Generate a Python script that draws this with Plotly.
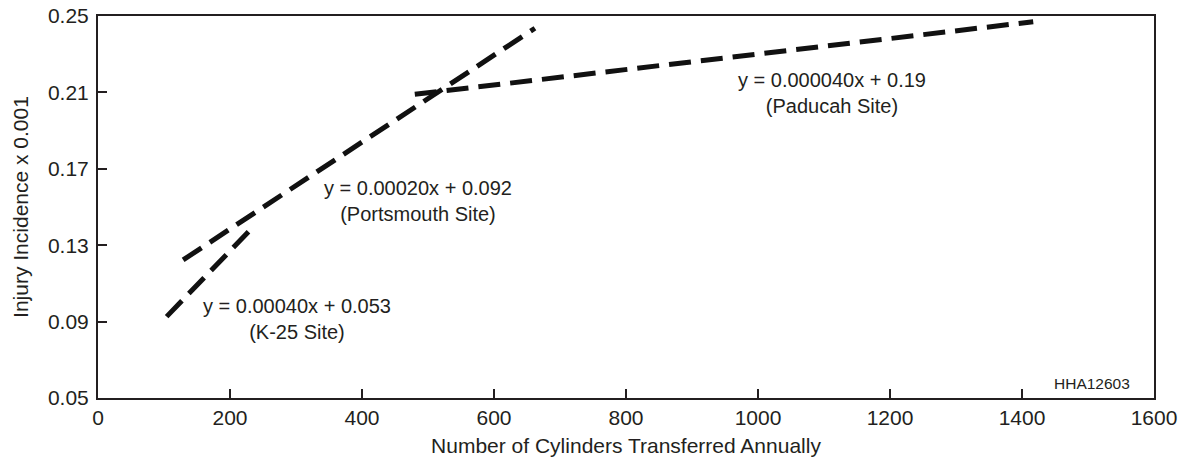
import plotly.graph_objects as go

# Regression line segments (x = cylinders per year, y = injury incidence x 0.001)
sites = ["K-25 Site", "Portsmouth Site", "Paducah Site"]
seg_x = [[104, 228], [129, 662], [480, 1417]]
seg_y = [[0.0926, 0.137], [0.1223, 0.2436], [0.209, 0.247]]
equations = ["y = 0.00040x + 0.053", "y = 0.00020x + 0.092", "y = 0.000040x + 0.19"]
label_x = [302, 485, 1112]
label_y = [0.0914, 0.153, 0.2099]

x_ticks = [0, 200, 400, 600, 800, 1000, 1200, 1400, 1600]
y_ticks = [0.05, 0.09, 0.13, 0.17, 0.21, 0.25]

ink = "#231f20"
font_family = "Liberation Sans, Arial, sans-serif"

fig = go.Figure()
for name, xs, ys in zip(sites, seg_x, seg_y):
    fig.add_trace(go.Scatter(
        x=xs, y=ys, mode="lines", name=name,
        line=dict(color="#111111", width=5, dash="22px,10px"),
        hoverinfo="skip",
    ))

# Equation with the site name on a second line
label_font = dict(family=font_family, size=20, color=ink)
for eq, site, lx, ly in zip(equations, sites, label_x, label_y):
    fig.add_annotation(x=lx, y=ly, xref="x", yref="y",
                       text=f"{eq}<br>({site})", align="center",
                       showarrow=False, font=label_font, borderpad=0)

fig.add_annotation(
    x=0.941, y=0.039, xref="paper", yref="paper",
    xanchor="center", yanchor="middle",
    text="HHA12603", showarrow=False,
    font=dict(family=font_family, size=15.5, color=ink),
)

axis_common = dict(
    showgrid=False, zeroline=False, automargin=False,
    showline=True, linecolor=ink, linewidth=2, mirror=True,
    ticks="inside", ticklen=9, tickwidth=2, tickcolor=ink,
    tickfont=dict(family=font_family, size=21, color=ink),
)

fig.update_xaxes(
    range=[0, 1600], tickvals=x_ticks, ticktext=[str(v) for v in x_ticks],
    title=dict(text="Number of Cylinders Transferred Annually",
               font=dict(family=font_family, size=21, color=ink), standoff=10),
    ticklabelstandoff=0,
    **axis_common,
)
fig.update_yaxes(
    range=[0.05, 0.25], tickvals=y_ticks, ticktext=[f"{v:.2f}" for v in y_ticks],
    title=dict(text="Injury Incidence x 0.001",
               font=dict(family=font_family, size=21, color=ink), standoff=14),
    ticklabelstandoff=3,
    **axis_common,
)

fig.update_layout(
    width=1187, height=461,
    margin=dict(l=98, r=33, t=16, b=63),
    plot_bgcolor="white", paper_bgcolor="white",
    showlegend=False,
)

fig.write_html("out.html")
